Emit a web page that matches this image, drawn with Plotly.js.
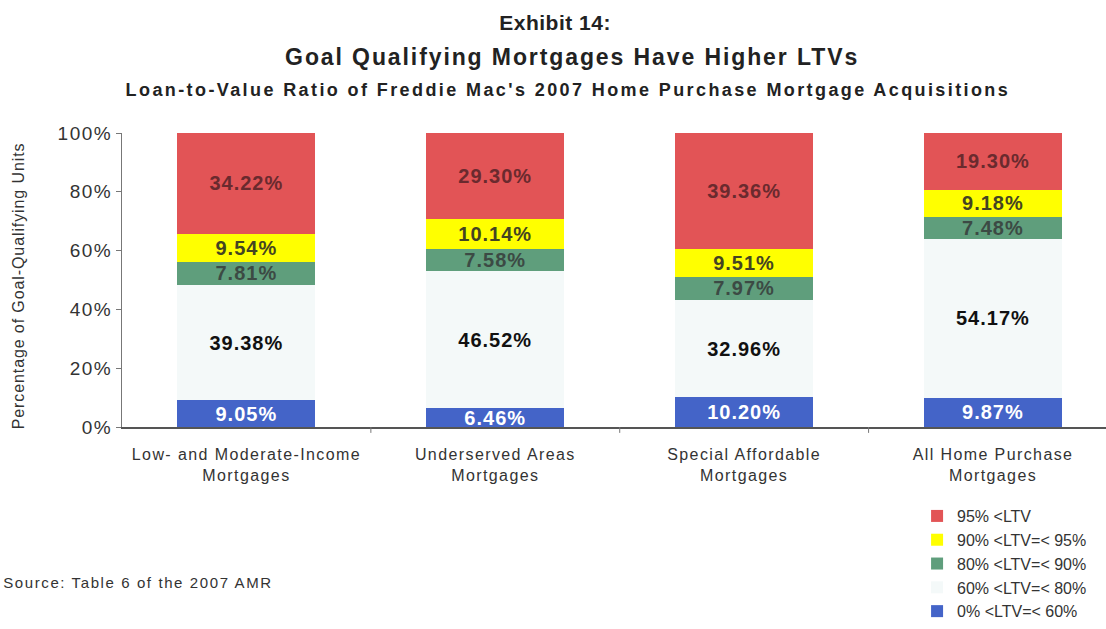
<!DOCTYPE html>
<html>
<head>
<meta charset="utf-8">
<script src="https://cdn.plot.ly/plotly-3.0.1.min.js"></script>
<style>
html,body{margin:0;padding:0;background:#fff;}
#chart{width:1106px;height:629px;}
#chart .xtick text{letter-spacing:1.4px;}
#chart .ytick text{letter-spacing:1.5px;}
#chart .bartext{letter-spacing:1px;}
#chart .annotation[data-index="0"] text{letter-spacing:0.5px;}
#chart .annotation[data-index="1"] text{letter-spacing:1.9px;}
#chart .annotation[data-index="2"] text{letter-spacing:2.4px;}
#chart .annotation[data-index="3"] text{letter-spacing:0.9px;}
#chart .annotation[data-index="4"] text{letter-spacing:1.6px;}
</style>
</head>
<body>
<div id="chart"></div>
<script>
const categories = ["Low- and Moderate-Income<br>Mortgages", "Underserved Areas<br>Mortgages", "Special Affordable<br>Mortgages", "All Home Purchase<br>Mortgages"];
const ltv0to60 = [9.05, 6.46, 10.20, 9.87];
const ltv60to80 = [39.38, 46.52, 32.96, 54.17];
const ltv80to90 = [7.81, 7.58, 7.97, 7.48];
const ltv90to95 = [9.54, 10.14, 9.51, 9.18];
const ltv95plus = [34.22, 29.30, 39.36, 19.30];
const seriesNames = ["0% <LTV=< 60%", "60% <LTV=< 80%", "80% <LTV=< 90%", "90% <LTV=< 95%", "95% <LTV"];
const yTickVals = [0, 20, 40, 60, 80, 100];
const yTickText = ["0%", "20%", "40%", "60%", "80%", "100%"];

const xIdx = categories.map((c, i) => i);
const font = "Liberation Sans, Arial, sans-serif";

function mk(vals, name, color, txtColor) {
  return {
    type: "bar", x: xIdx, y: vals, name: name,
    marker: {color: color, line: {width: 0}},
    width: 0.555,
    text: vals.map(v => v.toFixed(2) + "%"),
    textposition: "inside", insidetextanchor: "middle",
    constraintext: "none",
    textfont: {family: font, size: 20, color: txtColor, weight: "bold"},
    hoverinfo: "skip"
  };
}

const data = [
  mk(ltv0to60, seriesNames[0], "#4464c8", "#ffffff"),
  mk(ltv60to80, seriesNames[1], "#f4f9f9", "#111111"),
  mk(ltv80to90, seriesNames[2], "#5f9e7c", "#3c4a44"),
  mk(ltv90to95, seriesNames[3], "#ffff00", "#444422"),
  mk(ltv95plus, seriesNames[4], "#e25456", "#6a2a2e")
];

const layout = {
  width: 1106, height: 629,
  margin: {l: 122, r: 0, t: 133, b: 202},
  paper_bgcolor: "#ffffff", plot_bgcolor: "#ffffff",
  barmode: "stack",
  showlegend: true,
  legend: {
    x: 0.808, xanchor: "left", y: -0.245, yanchor: "top",
    traceorder: "reversed",
    font: {family: font, size: 16, color: "#333"},
    itemwidth: 30, bgcolor: "rgba(0,0,0,0)"
  },
  xaxis: {
    range: [-0.5, 3.454],
    tickvals: xIdx, ticktext: categories,
    showgrid: false, zeroline: false,
    showline: true, linecolor: "#555", linewidth: 1.5,
    ticks: "", ticklabelstandoff: 12,
    tickfont: {family: font, size: 16, color: "#333"},
    fixedrange: true
  },
  yaxis: {
    range: [0, 100],
    tickvals: yTickVals, ticktext: yTickText,
    showgrid: false, zeroline: false,
    showline: true, linecolor: "#777", linewidth: 1,
    ticks: "outside", ticklen: 5, tickcolor: "#777",
    tickfont: {family: font, size: 19, color: "#333"},
    fixedrange: true
  },
  shapes: [1, 2, 3].map(i => ({
    type: "line", xref: "x", yref: "paper", x0: i - 0.5, x1: i - 0.5, y0: 0, y1: -0.02,
    line: {color: "#777", width: 1}
  })),
  annotations: [
    {text: "<b>Exhibit 14:</b>", xref: "paper", yref: "paper", x: 0.44, y: 1.375, xanchor: "center", yanchor: "middle", showarrow: false, font: {family: font, size: 21, color: "#222"}},
    {text: "<b>Goal Qualifying Mortgages Have Higher LTVs</b>", xref: "paper", yref: "paper", x: 0.457, y: 1.258, xanchor: "center", yanchor: "middle", showarrow: false, font: {family: font, size: 23, color: "#222"}},
    {text: "<b>Loan-to-Value Ratio of Freddie Mac's 2007 Home Purchase Mortgage Acquisitions</b>", xref: "paper", yref: "paper", x: 0.453, y: 1.145, xanchor: "center", yanchor: "middle", showarrow: false, font: {family: font, size: 18, color: "#222"}},
    {text: "Percentage of Goal-Qualifying Units", xref: "paper", yref: "paper", x: -0.105, y: 0.48, xanchor: "center", yanchor: "middle", textangle: -90, showarrow: false, font: {family: font, size: 16, color: "#333"}},
    {text: "Source: Table 6 of the 2007 AMR", xref: "paper", yref: "paper", x: 0.016, y: -0.53, xanchor: "center", yanchor: "middle", showarrow: false, font: {family: font, size: 15, color: "#333"}}
  ]
};

Plotly.newPlot("chart", data, layout, {displayModeBar: false, staticPlot: true});
</script>
</body>
</html>
